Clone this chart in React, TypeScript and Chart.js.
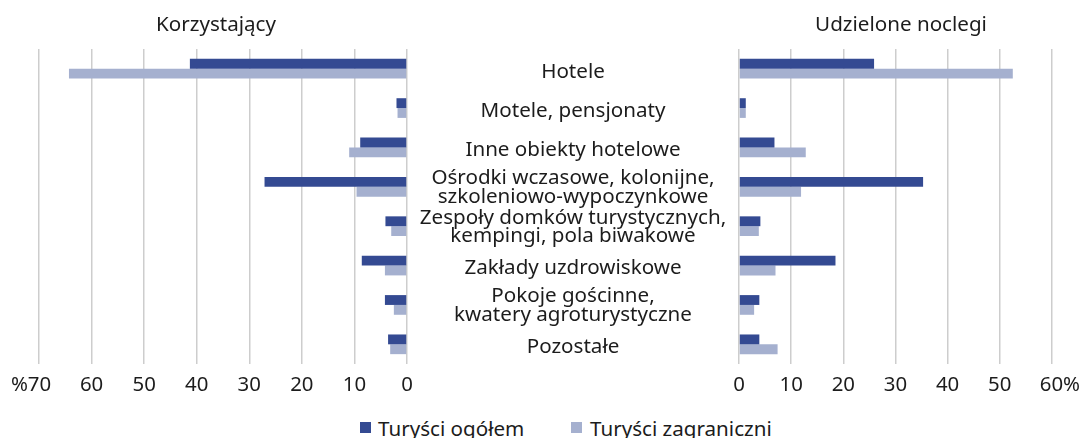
import React, { useEffect, useRef } from 'react';
import { Chart, registerables } from 'chart.js';

Chart.register(...registerables);

const categories: string[][] = [
  ['Hotele'],
  ['Motele, pensjonaty'],
  ['Inne obiekty hotelowe'],
  ['Ośrodki wczasowe, kolonijne,', 'szkoleniowo-wypoczynkowe'],
  ['Zespoły domków turystycznych,', 'kempingi, pola biwakowe'],
  ['Zakłady uzdrowiskowe'],
  ['Pokoje gościnne,', 'kwatery agroturystyczne'],
  ['Pozostałe'],
];

const seriesNames = ['Turyści ogółem', 'Turyści zagraniczni'];

const korzystajacyOgolem = [41.3, 2.0, 8.9, 27.1, 4.1, 8.6, 4.2, 3.6];
const korzystajacyZagraniczni = [64.3, 1.8, 11.0, 9.6, 3.0, 4.2, 2.5, 3.2];
const noclegiOgolem = [25.9, 1.3, 6.8, 35.3, 4.1, 18.5, 3.9, 3.9];
const noclegiZagraniczni = [52.5, 1.3, 12.8, 11.9, 3.8, 7.0, 2.9, 7.4];

const leftTickValues = [0, 10, 20, 30, 40, 50, 60, 70];
const leftTickLabels = ['0', '10', '20', '30', '40', '50', '60', '%70'];
const rightTickValues = [0, 10, 20, 30, 40, 50, 60];
const rightTickLabels = ['0', '10', '20', '30', '40', '50', '60%'];

const titles = ['Korzystający', 'Udzielone noclegi'];

const DARK = '#344a92';
const LIGHT = '#a5b0cf';
const GRID = '#cdcdcd';
const TEXT = '#1c1c1c';
const FONT = '"Noto Sans", "Open Sans", sans-serif';
const FS = 20.6;
const TICK_FS = 20.4;

export default function App() {
  const leftRef = useRef<HTMLCanvasElement | null>(null);
  const rightRef = useRef<HTMLCanvasElement | null>(null);

  useEffect(() => {
    if (!leftRef.current || !rightRef.current) return;

    const tickFont = { family: FONT, size: TICK_FS, lineHeight: 1.2 };

    const left = new Chart(leftRef.current, {
      type: 'bar',
      data: {
        labels: categories,
        datasets: [
          { label: seriesNames[0], data: korzystajacyOgolem, backgroundColor: DARK, categoryPercentage: 0.5, barPercentage: 1 },
          { label: seriesNames[1], data: korzystajacyZagraniczni, backgroundColor: LIGHT, categoryPercentage: 0.5, barPercentage: 1 },
        ],
      },
      options: {
        indexAxis: 'y',
        animation: false,
        responsive: false,
        layout: { padding: { left: 39, right: 33, top: 49, bottom: 0 } },
        plugins: { legend: { display: false }, tooltip: { enabled: false }, title: { display: false } },
        scales: {
          x: {
            type: 'linear',
            reverse: true,
            min: 0,
            max: 70,
            afterBuildTicks: (s: any) => { s.ticks = leftTickValues.map((v) => ({ value: v })); },
            afterFit: (s: any) => { s.height = 36; },
            ticks: {
              autoSkip: false,
              maxRotation: 0,
              padding: 9,
              color: TEXT,
              font: tickFont,
              callback: (v: any) => {
                const i = leftTickValues.indexOf(Number(v));
                const t = i >= 0 ? leftTickLabels[i] : '';
                return Number(v) === 70 ? t + '\u00a0\u00a0\u00a0' : t;
              },
            },
            grid: { color: GRID, lineWidth: 1.5, drawTicks: false },
            border: { display: false },
          },
          y: { type: 'category', display: false, grid: { display: false } },
        },
      },
    } as any);

    const categoryLabelsPlugin = {
      id: 'categoryLabels',
      afterDraw(chart: any) {
        const ctx = chart.ctx;
        const y = chart.scales.y;
        const cx = chart.chartArea.left - 166;
        ctx.save();
        ctx.font = `${FS}px ${FONT}`;
        ctx.fillStyle = TEXT;
        ctx.textAlign = 'center';
        ctx.textBaseline = 'middle';
        categories.forEach((lines, i) => {
          const py = y.getPixelForTick(i);
          if (lines.length === 1) {
            ctx.fillText(lines[0], cx, py + 3);
          } else {
            ctx.fillText(lines[0], cx, py - 8.5);
            ctx.fillText(lines[1], cx, py + 10);
          }
        });
        ctx.restore();
      },
    };

    const right = new Chart(rightRef.current, {
      type: 'bar',
      data: {
        labels: categories,
        datasets: [
          { label: seriesNames[0], data: noclegiOgolem, backgroundColor: DARK, categoryPercentage: 0.5, barPercentage: 1 },
          { label: seriesNames[1], data: noclegiZagraniczni, backgroundColor: LIGHT, categoryPercentage: 0.5, barPercentage: 1 },
        ],
      },
      options: {
        indexAxis: 'y',
        animation: false,
        responsive: false,
        layout: { padding: { left: 0, right: 31, top: 49, bottom: 0 } },
        plugins: { legend: { display: false }, tooltip: { enabled: false }, title: { display: false } },
        scales: {
          x: {
            type: 'linear',
            min: 0,
            max: 60,
            afterBuildTicks: (s: any) => { s.ticks = rightTickValues.map((v) => ({ value: v })); },
            afterFit: (s: any) => { s.height = 36; },
            ticks: {
              autoSkip: false,
              maxRotation: 0,
              padding: 9,
              color: TEXT,
              font: tickFont,
              callback: (v: any) => {
                const i = rightTickValues.indexOf(Number(v));
                const t = i >= 0 ? rightTickLabels[i] : '';
                return Number(v) === 60 ? '\u00a0\u00a0\u00a0' + t : t;
              },
            },
            grid: { color: GRID, lineWidth: 1.5, drawTicks: false },
            border: { display: false },
          },
          y: {
            type: 'category',
            position: 'left',
            afterFit: (s: any) => { s.width = 332; },
            ticks: { display: false },
            grid: { display: false, drawTicks: false },
            border: { display: false },
          },
        },
      },
      plugins: [categoryLabelsPlugin],
    } as any);

    return () => {
      left.destroy();
      right.destroy();
    };
  }, []);

  const textStyle: React.CSSProperties = {
    position: 'absolute',
    fontFamily: FONT,
    fontSize: FS,
    color: TEXT,
    lineHeight: '22px',
    whiteSpace: 'nowrap',
  };

  return (
    <div style={{ position: 'absolute', left: 0, top: 0, width: 1089, height: 438, background: '#fff', overflow: 'hidden' }}>
      <canvas ref={leftRef} width={440} height={400} style={{ position: 'absolute', left: 0, top: 0, display: 'block' }} />
      <canvas ref={rightRef} width={682} height={400} style={{ position: 'absolute', left: 407, top: 0, display: 'block' }} />
      <div style={{ ...textStyle, left: 216 - 150, top: 12, width: 300, textAlign: 'center' }}>{titles[0]}</div>
      <div style={{ ...textStyle, left: 901 - 150, top: 12, width: 300, textAlign: 'center' }}>{titles[1]}</div>
      <div style={{ position: 'absolute', left: 360, top: 422, width: 11, height: 11, background: DARK }} />
      <div style={{ ...textStyle, left: 378, top: 417 }}>{seriesNames[0]}</div>
      <div style={{ position: 'absolute', left: 571, top: 422, width: 11, height: 11, background: LIGHT }} />
      <div style={{ ...textStyle, left: 590, top: 417 }}>{seriesNames[1]}</div>
    </div>
  );
}
